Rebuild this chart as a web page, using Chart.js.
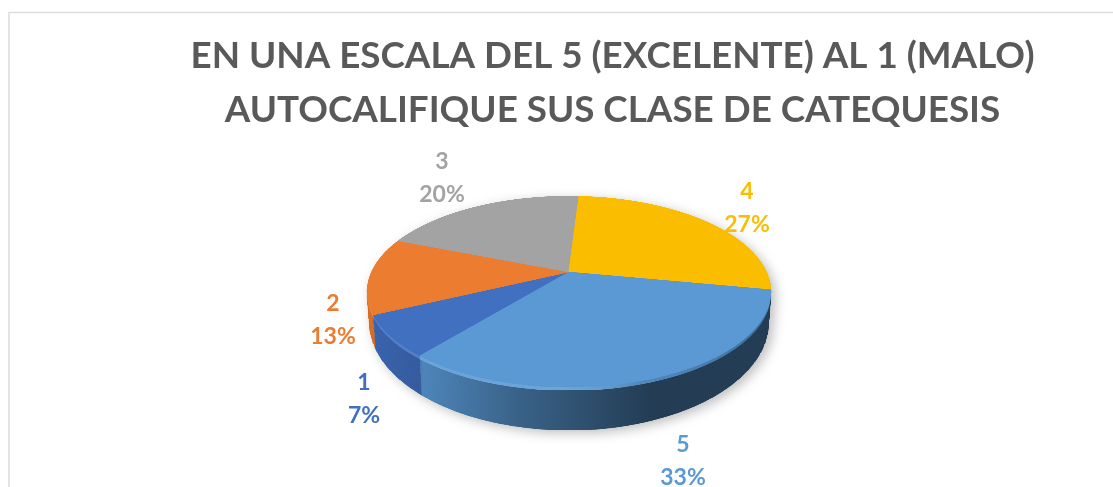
<!DOCTYPE html>
<html><head><meta charset="utf-8">
<script src="https://cdn.jsdelivr.net/npm/chart.js@4"></script>
<style>html,body{margin:0;padding:0;background:#fff;overflow:hidden}canvas{display:block;filter:blur(0.45px)}</style>
</head><body><canvas id="c" width="1113" height="487"></canvas>
<script>
const categories = ['1','2','3','4','5'];
const percents = [7,13,20,27,33];
const colors = ['#4170C0','#EB7C30','#A3A3A3','#FBBD00','#5A99D4'];
const titleLines = ['EN UNA ESCALA DEL 5 (EXCELENTE) AL 1 (MALO)','AUTOCALIFIQUE SUS CLASE DE CATEQUESIS'];
const labelCentres = [[364,399],[333,320],[442,178],[747,208],[683,461]];

// perspective view of the flat pie
const view = {cx:569, apexY:272, top:196, bottom:386, c:-0.204, A:91.5, B:197.3, midY:291};
const S = 420, SR = 414;

function remap(ctx, src, yoff, kx, ky){
  const v = view, x0 = v.cx;
  const toV = dy => dy/(v.A - dy*v.c);
  const k = S/SR;
  for(let y=v.top-1; y<v.bottom+1; y++){
    const v0 = toV(y-v.apexY), v1 = toV(y+1-v.apexY);
    const sx = v.B/(1+v.c*(v0+v1)/2)*k*kx;
    const sy = S+SR*v0, sh = SR*(v1-v0);
    const dy = v.midY+(y-v.midY)*ky+yoff;
    ctx.drawImage(src,0,sy,2*S,sh,x0-sx,dy,2*sx,Math.max(1,ky));
  }
}
function layer(w,h){const c=document.createElement('canvas');c.width=w;c.height=h;return c;}

const tiltPlugin = {
  id:'tilt',
  beforeDraw(chart){
    const g=chart.ctx; g.save(); g.strokeStyle='#dcdcdc'; g.lineWidth=1.5;
    g.beginPath(); g.moveTo(9,487); g.lineTo(9,12.5); g.lineTo(1113,12.5); g.stroke(); g.restore();
  },
  beforeDatasetDraw(){ return false; },
  afterDatasetsDraw(chart){
    const W=chart.width,H=chart.height,g=chart.ctx;
    const arcs=chart.getDatasetMeta(0).data;
    const flat=layer(2*S,2*S), f=flat.getContext('2d');
    const r=arcs[0].outerRadius, s=SR/r;
    f.translate(S,S); f.scale(s,s); f.translate(-arcs[0].x,-arcs[0].y);
    arcs.forEach(a=>a.draw(f));

    // side wall
    const wall=layer(W,H), wg=wall.getContext('2d');
    const N=38;
    for(let i=N;i>=1;i--){const t=i/N; remap(wg,flat,31*t,1-0.012*t,1+0.125*t);}
    wg.globalCompositeOperation='source-atop';
    let gr=wg.createLinearGradient(360,0,775,0);
    const st=x=>(x-360)/415;
    gr.addColorStop(0,'rgba(0,0,0,0.08)');
    gr.addColorStop(st(421),'rgba(0,0,0,0.18)');
    gr.addColorStop(st(423),'rgba(0,0,0,0.13)');
    gr.addColorStop(st(520),'rgba(0,0,0,0.36)');
    gr.addColorStop(st(650),'rgba(0,0,0,0.60)');
    gr.addColorStop(1,'rgba(0,0,0,0.60)');
    wg.fillStyle=gr; wg.fillRect(0,0,W,H);
    g.save();
    g.shadowColor='rgba(0,0,0,0.26)'; g.shadowBlur=12; g.shadowOffsetX=4; g.shadowOffsetY=3;
    g.drawImage(wall,0,0);
    g.restore();

    // bevel on the rim
    const rim=layer(W,H), rg=rim.getContext('2d');
    for(let i=3;i>=1;i--){const t=i/38; remap(rg,flat,31*t,1-0.012*t,1+0.125*t);}
    rg.globalCompositeOperation='source-atop';
    gr=rg.createLinearGradient(360,0,775,0);
    gr.addColorStop(0,'rgba(255,255,255,0.10)');
    gr.addColorStop(st(560),'rgba(255,255,255,0.12)');
    gr.addColorStop(st(640),'rgba(60,90,120,0.25)');
    gr.addColorStop(1,'rgba(20,40,60,0.40)');
    rg.fillStyle=gr; rg.fillRect(0,0,W,H);
    g.drawImage(rim,0,0);

    // top face
    remap(g,flat,0,1,1);

    // labels
    g.save();
    g.font='bold 23px Lato'; g.textAlign='center'; g.textBaseline='middle';
    categories.forEach((name,i)=>{
      const [x,y]=labelCentres[i];
      g.fillStyle=colors[i];
      g.fillText(name,x,y-16.5);
      g.fillText(percents[i]+'%',x,y+16.5);
    });
    g.restore();
  }
};

new Chart(document.getElementById('c'),{
  type:'pie',
  data:{labels:categories,datasets:[{data:percents,backgroundColor:colors,borderColor:colors,borderWidth:1}]},
  options:{
    responsive:false,animation:false,rotation:-140.5,
    layout:{padding:{left:112,top:29}},
    plugins:{
      legend:{display:false},tooltip:{enabled:false},
      title:{display:true,text:titleLines,color:'#595959',font:{family:'Lato',size:36.8,weight:'bold',lineHeight:1.47},padding:{top:0,bottom:10}}
    }
  },
  plugins:[tiltPlugin]
});
</script></body></html>
